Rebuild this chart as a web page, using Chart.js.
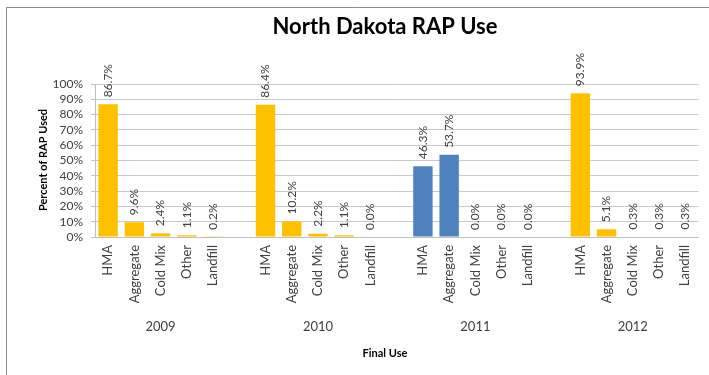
<!DOCTYPE html>
<html>
<head>
<meta charset="utf-8">
<script src="https://cdn.jsdelivr.net/npm/chart.js@4.4.1/dist/chart.umd.min.js"></script>
<style>
  html, body { margin: 0; padding: 0; background: #fff; }
  #wrap { position: relative; width: 709px; height: 375px; }
</style>
</head>
<body>
<div id="wrap"><canvas id="c" width="709" height="375"></canvas></div>
<script>
// ---- Data ----
const years = ['2009', '2010', '2011', '2012'];
const uses = ['HMA', 'Aggregate', 'Cold Mix', 'Other', 'Landfill'];
const values2009 = [86.7, 9.6, 2.4, 1.1, 0.2];
const values2010 = [86.4, 10.2, 2.2, 1.1, 0.0];
const values2011 = [46.3, 53.7, 0.0, 0.0, 0.0];
const values2012 = [93.9, 5.1, 0.3, 0.3, 0.3];
const yTicks = [0, 10, 20, 30, 40, 50, 60, 70, 80, 90, 100];
const chartTitle = 'North Dakota RAP Use';
const yTitle = 'Percent of RAP Used';
const xTitle = 'Final Use';

const yearValues = [values2009, values2010, values2011, values2012];
const gold = '#FFC000', blue = '#4F81BD';
const yearColors = [gold, gold, blue, gold];

// build slots: 5 uses per year, blank slot between years
const labels = [], data = [], colors = [], groups = [];
yearValues.forEach((vals, gi) => {
  const start = labels.length;
  uses.forEach((u, i) => { labels.push(u); data.push(vals[i]); colors.push(yearColors[gi]); });
  groups.push({ label: years[gi], first: start, last: labels.length - 1 });
  if (gi < yearValues.length - 1) { labels.push(''); data.push(null); colors.push(gold); }
});

Chart.defaults.font.family = 'Lato, "Open Sans", sans-serif';

const decor = {
  id: 'decor',
  beforeDraw(chart) {
    const ctx = chart.ctx;
    ctx.save();
    ctx.fillStyle = '#fff';
    ctx.fillRect(0, 0, chart.width, chart.height);
    ctx.strokeStyle = '#8c8c8c';
    ctx.lineWidth = 1;
    ctx.beginPath();
    ctx.moveTo(6.5, chart.height);
    ctx.lineTo(6.5, 7.5);
    ctx.lineTo(chart.width, 7.5);
    ctx.stroke();
    ctx.restore();
  },
  afterDraw(chart) {
    const ctx = chart.ctx;
    const xs = chart.scales.x;
    ctx.save();
    // title
    ctx.fillStyle = '#000';
    ctx.font = 'bold 22px Lato';
    ctx.textAlign = 'center';
    ctx.textBaseline = 'middle';
    ctx.fillText(chartTitle, 385, 27);
    // x title
    ctx.font = 'bold 11px Lato';
    ctx.fillText(xTitle, 385, 353);
    // y title
    ctx.save();
    ctx.translate(43, 160);
    ctx.rotate(-Math.PI / 2);
    ctx.fillText(yTitle, 0, 0);
    ctx.restore();
    // year group labels
    ctx.fillStyle = '#404040';
    ctx.font = '13px Lato';
    groups.forEach(g => {
      const x = (xs.getPixelForValue(g.first) + xs.getPixelForValue(g.last)) / 2;
      ctx.fillText(g.label, x, 327);
    });
    // data labels
    const meta = chart.getDatasetMeta(0);
    ctx.font = '12px Lato';
    ctx.fillStyle = '#404040';
    ctx.textAlign = 'left';
    meta.data.forEach((bar, i) => {
      const v = data[i];
      if (v === null || v === undefined) return;
      ctx.save();
      ctx.translate(bar.x, bar.y - 7);
      ctx.rotate(-Math.PI / 2);
      ctx.fillText(v.toFixed(1) + '%', 0, 0);
      ctx.restore();
    });
    ctx.restore();
  }
};

new Chart(document.getElementById('c'), {
  type: 'bar',
  data: {
    labels: labels,
    datasets: [{
      data: data,
      backgroundColor: colors,
      borderWidth: 0,
      categoryPercentage: 1.0,
      barPercentage: 0.74
    }]
  },
  options: {
    responsive: false,
    animation: false,
    layout: { padding: { left: 0, right: 7, top: 84, bottom: 0 } },
    plugins: { legend: { display: false }, tooltip: { enabled: false } },
    scales: {
      x: {
        grid: { display: false, drawTicks: false },
        border: { display: true, color: '#BFBFBF' },
        ticks: {
          autoSkip: false, maxRotation: 90, minRotation: 90, padding: 8,
          color: '#404040', font: { size: 13 }
        },
        afterFit(s) { s.height = 138; }
      },
      y: {
        min: 0, max: 100,
        afterBuildTicks(s) { s.ticks = yTicks.map(v => ({ value: v })); },
        grid: { color: '#C8C8C8', tickLength: 4, tickColor: '#BFBFBF' },
        border: { display: true, color: '#BFBFBF' },
        ticks: {
          autoSkip: false, stepSize: 10,
          padding: 8, color: '#404040', font: { size: 12 },
          callback: v => v + '%'
        },
        afterFit(s) { s.width = 95; }
      }
    }
  },
  plugins: [decor]
});
</script>
</body>
</html>
